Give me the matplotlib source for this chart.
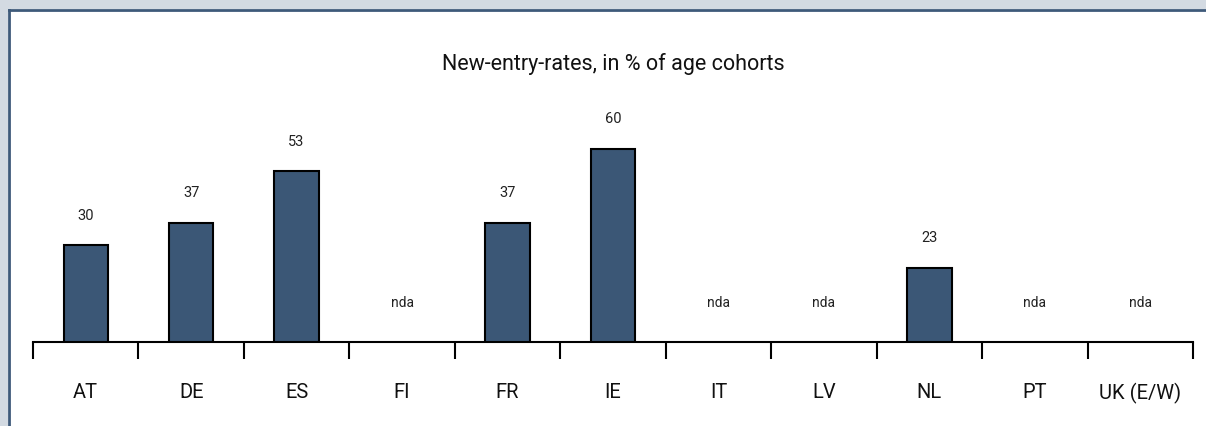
import matplotlib
matplotlib.use("Agg")
import matplotlib.pyplot as plt
from matplotlib.patches import Rectangle

countries = ["AT", "DE", "ES", "FI", "FR", "IE", "IT", "LV", "NL", "PT", "UK (E/W)"]
rates = [30, 37, 53, None, 37, 60, None, None, 23, None, None]

title = "New-entry-rates, in % of age cohorts"
bar_color = "#3b5776"
frame_color = "#3e5a7a"
bg_grey = "#d3dae2"

plt.rcParams['font.family'] = ['Roboto', 'DejaVu Sans']

W, H = 1206, 427
fig = plt.figure(figsize=(W/100, H/100), dpi=100)
fig.patch.set_facecolor(bg_grey)

# white panel with dark line on top and left
fig.patches.append(Rectangle((8/W, 0), 1, 1 - 10/H, transform=fig.transFigure,
                             facecolor="white", edgecolor="none", zorder=-5))
fig.add_artist(plt.Line2D([9/W, 1], [1 - 11/H, 1 - 11/H], transform=fig.transFigure,
                          color=frame_color, lw=2, zorder=-4))
fig.add_artist(plt.Line2D([9/W, 9/W], [0, 1 - 11/H], transform=fig.transFigure,
                          color=frame_color, lw=2, zorder=-4))

# axes: baseline at y=343 px, x from 33 to 1193 px
ax_left, ax_right = 33/W, 1193/W
ax_bottom = (H - 343)/H
ax_top = (H - 43)/H
ax = fig.add_axes([ax_left, ax_bottom, ax_right - ax_left, ax_top - ax_bottom])
ax.set_facecolor("none")
px_per_unit = 3.22
ax.set_ylim(0, 300/px_per_unit)
ax.set_xlim(-0.5, len(countries) - 0.5)

xs = range(len(countries))
for i, v in zip(xs, rates):
    if v is None:
        ax.text(i, 12.4, "nda", ha="center", va="center", fontsize=10, color="#222222")
    else:
        ax.bar(i, v, width=0.42, color=bar_color, edgecolor="black", linewidth=1.5, zorder=3)
        ax.text(i, v + 9.5, str(v), ha="center", va="center", fontsize=10.5, color="#222222")

for s in ["top", "right", "left"]:
    ax.spines[s].set_visible(False)
ax.spines["bottom"].set_linewidth(1.5)
ax.yaxis.set_visible(False)

ax.set_xticks(list(xs))
ax.set_xticklabels(countries, fontsize=14.5, color="#111111")
ax.tick_params(axis="x", which="major", length=0, pad=29)
ax.set_xticks([i - 0.5 for i in range(len(countries) + 1)], minor=True)
ax.tick_params(axis="x", which="minor", length=12, width=1.5, direction="out", color="black")

fig.text((433 + 793)/2/W, 1 - 64/H, title, ha="center", va="center", fontsize=15.5, color="#111111")

fig.savefig("out.png", dpi=100, facecolor=fig.get_facecolor())
